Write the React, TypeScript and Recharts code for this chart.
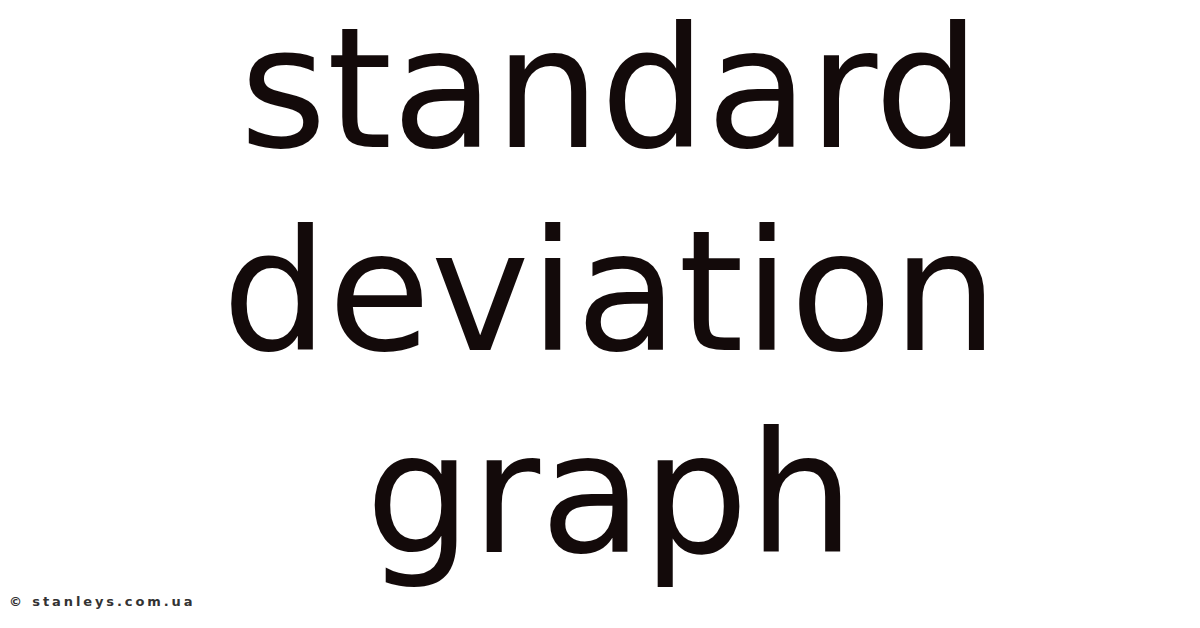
import React from "react";
import { ComposedChart, Customized } from "recharts";

const titleLines: string[] = ["standard", "deviation", "graph"];
const watermark: string = "© stanleys.com.ua";
const chartData = titleLines.map((line, i) => ({ line, index: i }));

const TEXT_COLOR = "#130a0a";
const FONT = "'DejaVu Sans', Verdana, sans-serif";

const TitleLayer = () => (
  <g>
    {titleLines.map((line, i) => (
      <text
        key={line}
        x={610}
        y={147 + i * 202.5}
        textAnchor="middle"
        fontFamily={FONT}
        fontSize={167}
        fill={TEXT_COLOR}
      >
        {line}
      </text>
    ))}
    <text
      x={9}
      y={606}
      fontFamily={FONT}
      fontSize={13}
      fontWeight="bold"
      letterSpacing={2.9}
      fill="#333333"
    >
      {watermark}
    </text>
  </g>
);

export default function App() {
  return (
    <div style={{ position: "absolute", left: 0, top: 0, width: 1200, height: 628, background: "#ffffff" }}>
      <ComposedChart width={1200} height={628} data={chartData} margin={{ top: 0, right: 0, bottom: 0, left: 0 }}>
        <Customized component={TitleLayer} />
      </ComposedChart>
    </div>
  );
}
